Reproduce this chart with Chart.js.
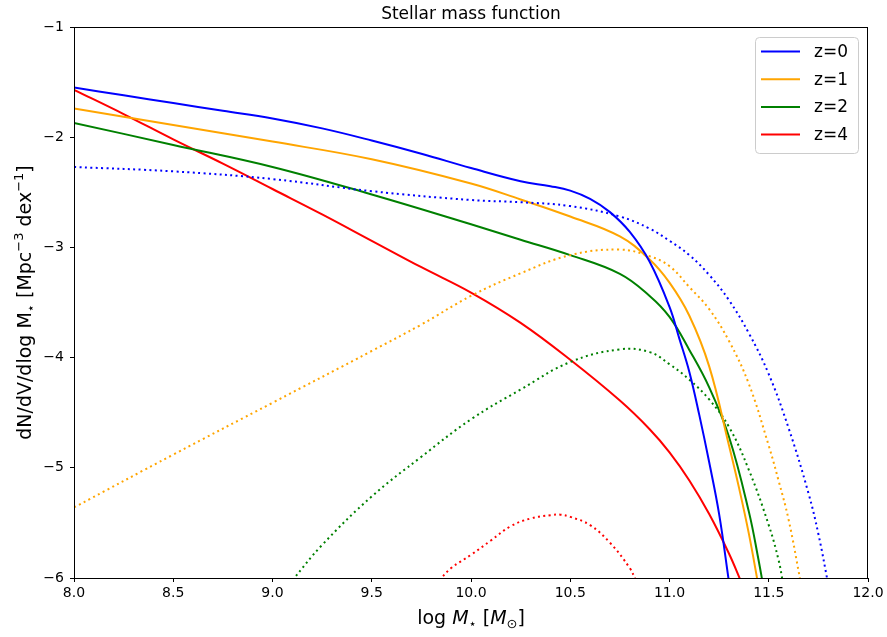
<!DOCTYPE html>
<html>
<head>
<meta charset="utf-8">
<title>Stellar mass function</title>
<script src="https://cdn.jsdelivr.net/npm/chart.js@4.4.1/dist/chart.umd.min.js"></script>
<style>
  html, body { margin: 0; padding: 0; background: #fff; }
  #wrap { width: 887px; height: 637px; }
</style>
</head>
<body>
<div id="wrap"><canvas id="smf" width="887" height="637"></canvas></div>
<script>
// values: log M* on x, log dN/dV/dlogM* on y
var z0X = [8.0, 8.25, 8.5, 8.75, 9.0, 9.25, 9.5, 9.75, 10.0, 10.25, 10.4, 10.5, 10.6, 10.7, 10.8, 10.9, 11.0, 11.05, 11.1, 11.15, 11.2, 11.25, 11.3];
var z0Total = [-1.55, -1.62, -1.69, -1.76, -1.83, -1.92, -2.03, -2.15, -2.28, -2.40, -2.445, -2.485, -2.56, -2.68, -2.86, -3.13, -3.54, -3.83, -4.13, -4.52, -4.95, -5.42, -6.04];
var z0CompX = [8.0, 8.5, 9.0, 9.5, 10.0, 10.25, 10.5, 10.75, 10.9, 11.0, 11.1, 11.2, 11.3, 11.4, 11.5, 11.6, 11.7, 11.75, 11.8];
var z0Comp = [-2.27, -2.31, -2.38, -2.49, -2.57, -2.59, -2.625, -2.72, -2.83, -2.94, -3.07, -3.25, -3.48, -3.78, -4.15, -4.64, -5.23, -5.6, -6.06];

var z1X = [8.0, 8.5, 9.0, 9.5, 10.0, 10.25, 10.5, 10.75, 10.9, 11.0, 11.1, 11.2, 11.3, 11.35, 11.4, 11.45];
var z1Total = [-1.74, -1.89, -2.04, -2.20, -2.42, -2.565, -2.72, -2.90, -3.11, -3.32, -3.62, -4.08, -4.80, -5.18, -5.60, -6.09];
var z1CompX = [8.0, 8.5, 9.0, 9.5, 9.75, 10.0, 10.25, 10.5, 10.75, 10.9, 11.0, 11.1, 11.2, 11.3, 11.4, 11.5, 11.55, 11.6, 11.66];
var z1Comp = [-5.36, -4.88, -4.41, -3.94, -3.70, -3.44, -3.235, -3.07, -3.02, -3.08, -3.17, -3.36, -3.56, -3.85, -4.24, -4.80, -5.12, -5.47, -6.03];

var z2X = [8.0, 8.5, 9.0, 9.5, 10.0, 10.25, 10.5, 10.75, 10.9, 11.0, 11.1, 11.2, 11.3, 11.4, 11.45, 11.47];
var z2Total = [-1.87, -2.07, -2.27, -2.52, -2.79, -2.93, -3.07, -3.24, -3.44, -3.63, -3.93, -4.27, -4.72, -5.40, -5.85, -6.05];
var z2CompX = [9.1, 9.25, 9.5, 9.75, 10.0, 10.25, 10.5, 10.75, 10.9, 11.0, 11.1, 11.2, 11.3, 11.4, 11.5, 11.55, 11.57];
var z2Comp = [-6.02, -5.70, -5.26, -4.90, -4.56, -4.29, -4.04, -3.925, -3.95, -4.06, -4.20, -4.38, -4.63, -5.02, -5.52, -5.84, -6.03];

var z4X = [8.0, 8.25, 8.5, 8.75, 9.0, 9.25, 9.5, 9.75, 10.0, 10.25, 10.5, 10.75, 10.9, 11.0, 11.1, 11.2, 11.3, 11.36];
var z4Total = [-1.57, -1.79, -2.02, -2.24, -2.47, -2.70, -2.94, -3.18, -3.41, -3.685, -4.02, -4.39, -4.65, -4.86, -5.115, -5.42, -5.78, -6.03];
var z4CompX = [9.84, 9.9, 10.0, 10.1, 10.2, 10.3, 10.4, 10.45, 10.5, 10.6, 10.7, 10.8, 10.83];
var z4Comp = [-6.02, -5.91, -5.79, -5.66, -5.53, -5.46, -5.43, -5.425, -5.445, -5.52, -5.68, -5.91, -6.02];

var xTicks = [8.0, 8.5, 9.0, 9.5, 10.0, 10.5, 11.0, 11.5, 12.0];
var yTicks = [-6, -5, -4, -3, -2, -1];

var FONT = "'DejaVu Sans', 'Liberation Sans', sans-serif";
var DOTS = [2, 3.4];

function pts(xs, ys) {
    return xs.map(function(x, i) { return { x: x, y: ys[i] }; });
}

function line(label, xs, ys, color, dotted) {
    return {
        label: label,
        data: pts(xs, ys),
        borderColor: color,
        backgroundColor: color,
        borderWidth: 2,
        borderDash: dotted ? DOTS : [],
        borderCapStyle: 'butt',
        pointRadius: 0,
        fill: false,
        tension: 0.4,
        isComponent: dotted
    };
}

// draws a row of text pieces (mathtext-like sub/superscripts)
function drawRuns(ctx, runs, cx, baseY) {
    var total = 0;
    runs.forEach(function(r) {
        ctx.font = (r.italic ? 'italic ' : '') + r.size + 'px ' + FONT;
        r.w = ctx.measureText(r.t).width;
        total += r.w;
    });
    var x = cx - total / 2;
    ctx.textAlign = 'left';
    ctx.textBaseline = 'alphabetic';
    runs.forEach(function(r) {
        ctx.font = (r.italic ? 'italic ' : '') + r.size + 'px ' + FONT;
        ctx.fillText(r.t, x, baseY + (r.dy || 0));
        x += r.w;
    });
}

var decorations = {
    id: 'decorations',
    afterDraw: function(chart) {
        var ctx = chart.ctx;
        var a = chart.chartArea;
        ctx.save();

        // box around the axes
        ctx.strokeStyle = '#000';
        ctx.lineWidth = 1;
        ctx.strokeRect(Math.round(a.left) + 0.5, Math.round(a.top) + 0.5,
            Math.round(a.right - a.left) - 1, Math.round(a.bottom - a.top));

        ctx.fillStyle = '#000';
        // title
        ctx.font = '17px ' + FONT;
        ctx.textAlign = 'center';
        ctx.textBaseline = 'alphabetic';
        ctx.fillText('Stellar mass function', (a.left + a.right) / 2, 19);

        // x axis label
        drawRuns(ctx, [
            { t: 'log ', size: 19 },
            { t: 'M', size: 19, italic: true },
            { t: '\u22c6', size: 13, dy: 4 },
            { t: ' [', size: 19 },
            { t: 'M', size: 19, italic: true },
            { t: '\u2299', size: 13, dy: 4 },
            { t: ']', size: 19 }
        ], (a.left + a.right) / 2, 624);

        // y axis label
        ctx.save();
        ctx.translate(31, (a.top + a.bottom) / 2);
        ctx.rotate(-Math.PI / 2);
        drawRuns(ctx, [
            { t: 'dN/dV/dlog M', size: 19 },
            { t: '\u22c6', size: 13, dy: 4 },
            { t: ' [Mpc', size: 19 },
            { t: '\u22123', size: 13, dy: -8 },
            { t: ' dex', size: 19 },
            { t: '\u22121', size: 13, dy: -8 },
            { t: ']', size: 19 }
        ], 0, 0);
        ctx.restore();

        // legend, upper right
        var bx = 755.5, by = 37.5, bw = 103, bh = 116, r = 4;
        ctx.beginPath();
        ctx.moveTo(bx + r, by);
        ctx.lineTo(bx + bw - r, by);
        ctx.quadraticCurveTo(bx + bw, by, bx + bw, by + r);
        ctx.lineTo(bx + bw, by + bh - r);
        ctx.quadraticCurveTo(bx + bw, by + bh, bx + bw - r, by + bh);
        ctx.lineTo(bx + r, by + bh);
        ctx.quadraticCurveTo(bx, by + bh, bx, by + bh - r);
        ctx.lineTo(bx, by + r);
        ctx.quadraticCurveTo(bx, by, bx + r, by);
        ctx.closePath();
        ctx.fillStyle = 'rgba(255,255,255,0.8)';
        ctx.fill();
        ctx.strokeStyle = '#cccccc';
        ctx.stroke();

        var entries = chart.data.datasets.filter(function(d) { return !d.isComponent; });
        entries.forEach(function(d, i) {
            var y = 51.5 + i * 27.7;
            ctx.strokeStyle = d.borderColor;
            ctx.lineWidth = 2;
            ctx.beginPath();
            ctx.moveTo(761, y);
            ctx.lineTo(800, y);
            ctx.stroke();
            ctx.fillStyle = '#000';
            ctx.font = '17px ' + FONT;
            ctx.textAlign = 'left';
            ctx.textBaseline = 'middle';
            ctx.fillText(d.label, 814, y + 1);
        });
        ctx.restore();
    }
};

var ctx = document.getElementById('smf').getContext('2d');
var smfChart = new Chart(ctx, {
    type: 'line',
    data: {
        datasets: [
            line('z=0', z0X, z0Total, '#0000ff', false),
            line('z=0 comp', z0CompX, z0Comp, '#0000ff', true),
            line('z=1', z1X, z1Total, '#ffa500', false),
            line('z=1 comp', z1CompX, z1Comp, '#ffa500', true),
            line('z=2', z2X, z2Total, '#008000', false),
            line('z=2 comp', z2CompX, z2Comp, '#008000', true),
            line('z=4', z4X, z4Total, '#ff0000', false),
            line('z=4 comp', z4CompX, z4Comp, '#ff0000', true)
        ]
    },
    options: {
        responsive: false,
        animation: false,
        devicePixelRatio: 1,
        layout: { padding: { top: 27, right: 19, bottom: 0, left: 0 } },
        plugins: {
            legend: { display: false },
            title: { display: false },
            tooltip: { enabled: false }
        },
        scales: {
            x: {
                type: 'linear',
                min: 8,
                max: 12,
                afterBuildTicks: function(scale) {
                    scale.ticks = xTicks.map(function(v) { return { value: v }; });
                },
                afterFit: function(scale) { scale.height = 59; },
                ticks: {
                    callback: function(v) { return Number(v).toFixed(1); },
                    font: { family: FONT, size: 14 },
                    color: '#000',
                    padding: 3,
                    maxRotation: 0,
                    autoSkip: false
                },
                grid: { drawOnChartArea: false, tickLength: 4, color: '#000' },
                border: { display: false }
            },
            y: {
                type: 'linear',
                min: -6,
                max: -1,
                afterBuildTicks: function(scale) {
                    scale.ticks = yTicks.map(function(v) { return { value: v }; });
                },
                afterFit: function(scale) { scale.width = 74; },
                ticks: {
                    callback: function(v) { return (v < 0 ? '\u2212' : '') + Math.abs(v); },
                    font: { family: FONT, size: 14 },
                    color: '#000',
                    padding: 6
                },
                grid: { drawOnChartArea: false, tickLength: 4, color: '#000' },
                border: { display: false }
            }
        }
    },
    plugins: [decorations]
});
</script>
</body>
</html>
